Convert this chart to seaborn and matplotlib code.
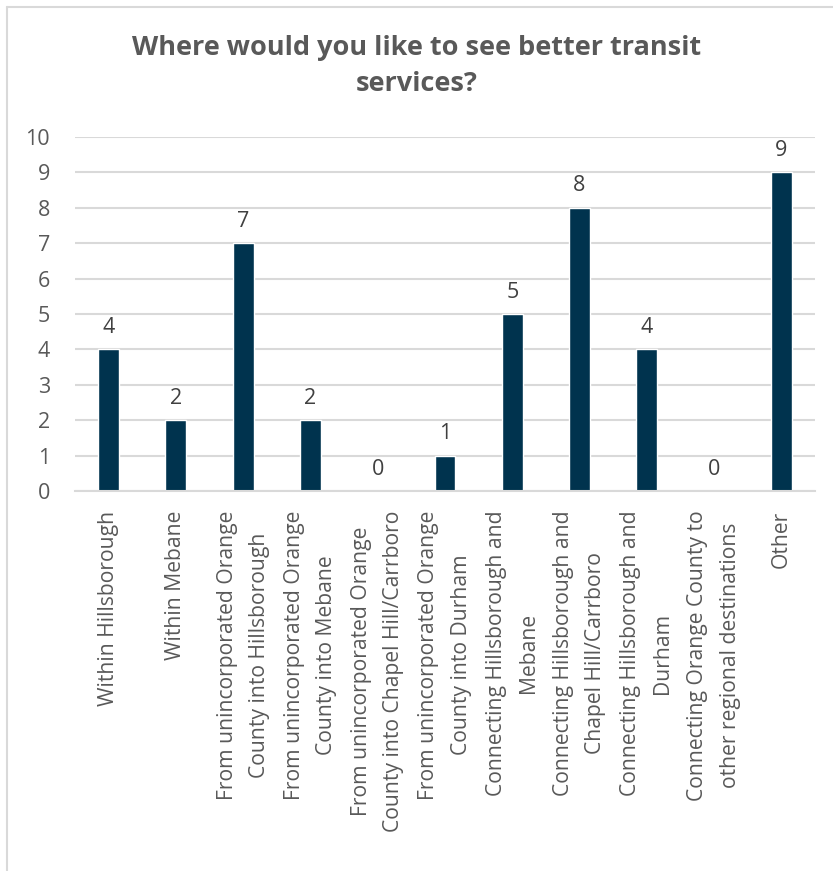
import matplotlib
matplotlib.use('Agg')
import matplotlib.pyplot as plt
import seaborn as sns
import pandas as pd
from matplotlib.lines import Line2D

categories = [
    'Within Hillsborough',
    'Within Mebane',
    'From unincorporated Orange\nCounty into Hillsborough',
    'From unincorporated Orange\nCounty into Mebane',
    'From unincorporated Orange\nCounty into Chapel Hill/Carrboro',
    'From unincorporated Orange\nCounty into Durham',
    'Connecting Hillsborough and\nMebane',
    'Connecting Hillsborough and\nChapel Hill/Carrboro',
    'Connecting Hillsborough and\nDurham',
    'Connecting Orange County to\nother regional destinations',
    'Other',
]
counts = [4, 2, 7, 2, 0, 1, 5, 8, 4, 0, 9]
y_ticks = list(range(0, 11))

df = pd.DataFrame({'Category': categories, 'Count': counts})

sns.set_style('white')
plt.rcParams['font.family'] = ['Open Sans', 'DejaVu Sans']

W, H = 833, 871
fig = plt.figure(figsize=(W / 100, H / 100), dpi=100)
ax = fig.add_axes([75 / W, 1 - 491 / H, 740 / W, 354 / H])

sns.barplot(data=df, x='Category', y='Count', color='#00334E', width=0.31,
            saturation=1, ax=ax)

ax.set_ylim(0, 10)
ax.set_yticks(y_ticks)
ax.yaxis.grid(True, color='#D9D9D9', linewidth=1.5)
ax.set_axisbelow(True)
for s in ['top', 'right', 'left']:
    ax.spines[s].set_visible(False)
ax.spines['bottom'].set_color('#D9D9D9')
ax.spines['bottom'].set_linewidth(1.5)
ax.set_xlabel('')
ax.set_ylabel('')
ax.tick_params(axis='y', length=0, pad=18, labelsize=15.5, labelcolor='#595959')
ax.tick_params(axis='x', length=0, pad=14, labelsize=15.2, labelcolor='#595959')
for lab in ax.get_xticklabels():
    lab.set_rotation(90)
    lab.set_ha('center')
    lab.set_va('top')
    lab.set_multialignment('center')
    lab.set_linespacing(1.7)

for i, v in enumerate(counts):
    ax.text(i, v + 0.32, str(v), ha='center', va='bottom', fontsize=15.5,
            color='#404040')

fig.text(0.5, 1 - 66 / H, 'Where would you like to see better transit\nservices?',
         ha='center', va='center', fontsize=19.5, fontweight='bold',
         color='#595959', linespacing=1.5)

fig.add_artist(Line2D([7 / W, 1], [1 - 7 / H, 1 - 7 / H], color='#D9D9D9', linewidth=1.5))
fig.add_artist(Line2D([7 / W, 7 / W], [0, 1 - 7 / H], color='#D9D9D9', linewidth=1.5))

fig.savefig('out.png', dpi=100)
